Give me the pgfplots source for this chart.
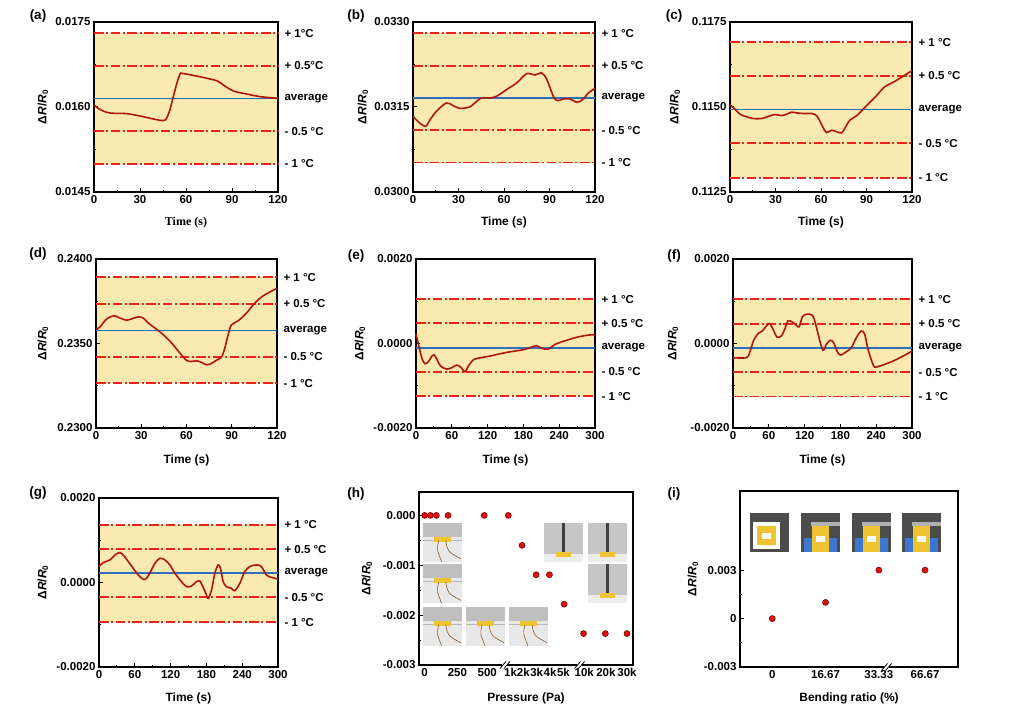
\documentclass[border=0pt]{standalone}
\usepackage{pgfplots}
\pgfplotsset{compat=1.18}
\usepackage{fontspec}
\setmainfont{Liberation Sans}
\newfontfamily\tnr{Liberation Serif}
\definecolor{bandyellow}{RGB}{251,234,176}
\definecolor{limred}{RGB}{235,35,28}
\definecolor{avgblue}{RGB}{50,110,190}
\definecolor{curvered}{RGB}{175,22,12}
\definecolor{ballred}{RGB}{220,15,15}
\definecolor{sensor}{RGB}{238,196,50}
\definecolor{glove}{RGB}{60,120,210}
\pgfplotsset{
  base/.style={scale only axis, anchor=south west, clip=false,
    tick align=inside, tick pos=left, major tick length=4pt, minor tick length=2.2pt,
    axis line style={line width=1.3pt}, every tick/.append style={black, line width=1pt},
    ticklabel style={font=\fontsize{11.5}{13}\selectfont\bfseries},
    /pgf/number format/assume math mode=true,
    scaled y ticks=false, scaled x ticks=false},
  tpanel/.style={base, minor x tick num=1, minor y tick num=1},
  bandax/.style={scale only axis, anchor=south west, hide axis},
  band/.style={fill=bandyellow, draw=none, forget plot},
  lim/.style={color=limred, line width=1.8pt, dash pattern=on 9.5pt off 2.6pt on 2pt off 2.6pt},
  avg/.style={color=avgblue, line width=1.6pt},
  curve/.style={color=curvered, line width=1.6pt, smooth},
  balls/.style={only marks, mark=*, mark size=3pt, mark options={fill=ballred, draw=red!50!black, line width=0.6pt}},
}
\tikzset{
  rlab/.style={anchor=west, xshift=3pt, font=\fontsize{11.5}{13}\selectfont\bfseries},
  xlab/.style={anchor=center, font=\fontsize{12}{14}\selectfont\bfseries},
  ylab/.style={anchor=center, rotate=90, font=\fontsize{12}{14}\selectfont\bfseries},
  plab/.style={anchor=center, font=\fontsize{13.5}{15}\selectfont\bfseries},
}
\newcommand{\dRR}{Δ\textit{R}/\textit{R}\textsubscript{0}}
\newcommand{\brk}[2]{%
  \fill[white] ([xshift=-2.5pt,yshift=-1.4pt]axis cs:#1,#2) rectangle ([xshift=2.5pt,yshift=1.4pt]axis cs:#1,#2);
  \draw[line width=0.8pt] ([xshift=-5pt,yshift=-3.5pt]axis cs:#1,#2) -- ([xshift=1pt,yshift=3.5pt]axis cs:#1,#2);
  \draw[line width=0.8pt] ([xshift=-1pt,yshift=-3.5pt]axis cs:#1,#2) -- ([xshift=5pt,yshift=3.5pt]axis cs:#1,#2);}
\newcommand{\hphoto}[2]{%
  \begin{scope}[shift={(#1pt,#2pt)}]
  \fill[gray!50] (0,0) rectangle (39pt,39pt);
  \fill[gray!18] (0,0) rectangle (39pt,25pt);
  \draw[gray!55, line width=0.4pt] (0,22pt) -- (39pt,22pt);
  \fill[sensor] (11pt,20pt) rectangle (28pt,25pt);
  \draw[brown!70!black, line width=0.6pt] (16pt,21pt) .. controls (14pt,12pt) .. (19pt,0pt);
  \draw[brown!70!black, line width=0.6pt] (23pt,21pt) .. controls (25pt,10pt) .. (38pt,3pt);
  \end{scope}}
\newcommand{\rphoto}[2]{%
  \begin{scope}[shift={(#1pt,#2pt)}]
  \fill[gray!45] (0,0) rectangle (38.5pt,39pt);
  \fill[gray!15] (0,0) rectangle (38.5pt,8pt);
  \fill[black!75] (17.5pt,10pt) rectangle (21pt,39pt);
  \fill[sensor] (12pt,5pt) rectangle (27pt,10pt);
  \end{scope}}
\newcommand{\iphoto}[3]{%
  \begin{scope}[shift={(#1pt,#2pt)}]
  \fill[black!70] (0,0) rectangle (39pt,39pt);
  \ifnum#3=0
    \fill[white] (3pt,3pt) rectangle (30pt,30pt);
    \fill[sensor] (7pt,7pt) rectangle (26pt,26pt);
    \fill[white] (12pt,13pt) rectangle (21pt,19pt);
  \else
    \fill[gray!60] (10pt,26pt) rectangle (39pt,30pt);
    \fill[sensor] (11pt,0pt) rectangle (28pt,26pt);
    \fill[white] (15pt,10pt) rectangle (24pt,16pt);
    \fill[glove] (3pt,0pt) rectangle (11pt,14pt);
    \fill[glove] (28pt,0pt) rectangle (36pt,14pt);
  \fi
  \end{scope}}
\begin{document}
\begin{tikzpicture}
\useasboundingbox (0,0) rectangle (1019pt,707pt);

% (a)
\begin{axis}[bandax, at={(94pt,515pt)}, width=184pt, height=170pt, xmin=0, xmax=120, ymin=0.0145, ymax=0.0175]
\addplot[band] coordinates {(0,0.015)(120,0.015)(120,0.0173)(0,0.0173)};
\end{axis}
\begin{axis}[tpanel, at={(94pt,515pt)}, width=184pt, height=170pt,
  xmin=0, xmax=120, ymin=0.0145, ymax=0.0175, xtick={0,30,60,90,120},
  ytick={0.0145,0.016,0.0175}, yticklabels={0.0145,0.0160,0.0175}]
\addplot[lim] coordinates {(0,0.0173)(120,0.0173)};
\addplot[lim] coordinates {(0,0.016725)(120,0.016725)};
\addplot[avg] coordinates {(0,0.01615)(120,0.01615)};
\addplot[lim] coordinates {(0,0.015575)(120,0.015575)};
\addplot[lim] coordinates {(0,0.015)(120,0.015)};
\addplot[curve] coordinates {(0,0.016035)(3.7,0.015959)(8.1,0.015907)(12.4,0.015889)(21.2,0.015883)(29.9,0.015842)(38.6,0.015789)(45.2,0.01576)(47.3,0.0158)(49.5,0.015948)(51.7,0.016182)(53.9,0.016405)(56.1,0.01658)(57.8,0.016592)(69.2,0.016533)(80.1,0.016463)(84.4,0.016387)(91,0.016281)(99.7,0.016229)(108.4,0.016182)(120,0.016153)};
\node[rlab] at (axis cs:120,0.0173) {+ 1°C};
\node[rlab] at (axis cs:120,0.016725) {+ 0.5°C};
\node[rlab] at (axis cs:120,0.01615) {average};
\node[rlab] at (axis cs:120,0.015575) {- 0.5 °C};
\node[rlab] at (axis cs:120,0.015) {- 1 °C};
\node[xlab, font=\fontsize{12}{14}\selectfont\tnr\bfseries, yshift=-31pt] at (rel axis cs:0.5,0) {Time (s)};
\node[ylab] at ([xshift=-51pt]rel axis cs:0,0.5) {\dRR};
\end{axis}

% (b)
\begin{axis}[bandax, at={(413pt,515pt)}, width=182pt, height=170pt, xmin=0, xmax=120, ymin=0.03, ymax=0.033]
\addplot[band] coordinates {(0,0.03052)(120,0.03052)(120,0.0328)(0,0.0328)};
\end{axis}
\begin{axis}[tpanel, at={(413pt,515pt)}, width=182pt, height=170pt,
  xmin=0, xmax=120, ymin=0.03, ymax=0.033, xtick={0,30,60,90,120},
  ytick={0.03,0.0315,0.033}, yticklabels={0.0300,0.0315,0.0330}]
\addplot[lim] coordinates {(0,0.0328)(120,0.0328)};
\addplot[lim] coordinates {(0,0.03223)(120,0.03223)};
\addplot[avg] coordinates {(0,0.03166)(120,0.03166)};
\addplot[lim] coordinates {(0,0.03109)(120,0.03109)};
\addplot[lim] coordinates {(0,0.03052)(120,0.03052)};
\addplot[curve] coordinates {(0,0.031335)(4.4,0.031218)(8.4,0.031159)(11,0.031265)(15.4,0.031424)(22,0.031571)(26.4,0.031524)(30.8,0.031476)(37.4,0.0315)(40.7,0.031571)(45.1,0.031659)(50.6,0.031659)(55,0.031688)(61.6,0.031806)(68.3,0.031924)(74.9,0.032088)(80.4,0.032065)(84.8,0.0321)(88.1,0.031994)(92.5,0.031688)(95.1,0.031612)(99.1,0.031641)(103.5,0.031641)(108.3,0.031582)(112.3,0.031641)(115.6,0.031747)(120,0.031829)};
\node[rlab] at (axis cs:120,0.0328) {+ 1 °C};
\node[rlab] at (axis cs:120,0.03223) {+ 0.5 °C};
\node[rlab] at (axis cs:120,0.03166) {average};
\node[rlab] at (axis cs:120,0.03109) {- 0.5 °C};
\node[rlab] at (axis cs:120,0.03052) {- 1 °C};
\node[xlab, yshift=-30pt] at (rel axis cs:0.5,0) {Time (s)};
\node[ylab] at ([xshift=-50pt]rel axis cs:0,0.5) {\dRR};
\end{axis}

% (c)
\begin{axis}[bandax, at={(730pt,515pt)}, width=182pt, height=170pt, xmin=0, xmax=120, ymin=0.1125, ymax=0.1175]
\addplot[band] coordinates {(0,0.11292)(120,0.11292)(120,0.11691)(0,0.11691)};
\end{axis}
\begin{axis}[tpanel, at={(730pt,515pt)}, width=182pt, height=170pt,
  xmin=0, xmax=120, ymin=0.1125, ymax=0.1175, xtick={0,30,60,90,120},
  ytick={0.1125,0.115,0.1175}, yticklabels={0.1125,0.1150,0.1175}]
\addplot[lim] coordinates {(0,0.11691)(120,0.11691)};
\addplot[lim] coordinates {(0,0.11592)(120,0.11592)};
\addplot[avg] coordinates {(0,0.11493)(120,0.11493)};
\addplot[lim] coordinates {(0,0.11393)(120,0.11393)};
\addplot[lim] coordinates {(0,0.11292)(120,0.11292)};
\addplot[curve] coordinates {(0,0.115064)(3.3,0.114936)(6.6,0.114788)(11,0.114709)(15.4,0.11466)(20.8,0.11466)(26.3,0.114739)(29.6,0.114778)(34,0.114749)(37.3,0.114788)(40.6,0.114847)(43.9,0.114827)(48.3,0.114808)(53.8,0.114808)(57,0.114749)(59.2,0.114591)(61.4,0.114394)(63.6,0.114246)(66.9,0.114315)(70.2,0.114275)(73.5,0.114236)(75.7,0.114374)(79,0.114611)(83.4,0.114739)(87.8,0.114936)(92.2,0.115133)(96.5,0.11533)(102,0.115596)(107.5,0.115725)(113,0.115872)(120,0.11607)};
\node[rlab] at (axis cs:120,0.11691) {+ 1 °C};
\node[rlab] at (axis cs:120,0.11592) {+ 0.5 °C};
\node[rlab] at (axis cs:120,0.11493) {average};
\node[rlab] at (axis cs:120,0.11393) {- 0.5 °C};
\node[rlab] at (axis cs:120,0.11292) {- 1 °C};
\node[xlab, yshift=-30pt] at (rel axis cs:0.5,0) {Time (s)};
\node[ylab] at ([xshift=-55pt]rel axis cs:0,0.5) {\dRR};
\end{axis}

% (d)
\begin{axis}[bandax, at={(96pt,279pt)}, width=181pt, height=169pt, xmin=0, xmax=120, ymin=0.23, ymax=0.24]
\addplot[band] coordinates {(0,0.23264)(120,0.23264)(120,0.23892)(0,0.23892)};
\end{axis}
\begin{axis}[tpanel, at={(96pt,279pt)}, width=181pt, height=169pt,
  xmin=0, xmax=120, ymin=0.23, ymax=0.24, xtick={0,30,60,90,120},
  ytick={0.23,0.235,0.24}, yticklabels={0.2300,0.2350,0.2400}]
\addplot[lim] coordinates {(0,0.23892)(120,0.23892)};
\addplot[lim] coordinates {(0,0.23735)(120,0.23735)};
\addplot[avg] coordinates {(0,0.23578)(120,0.23578)};
\addplot[lim] coordinates {(0,0.23421)(120,0.23421)};
\addplot[lim] coordinates {(0,0.23264)(120,0.23264)};
\addplot[curve] coordinates {(0,0.235807)(2.9,0.236004)(6.2,0.236378)(9.5,0.236575)(12.8,0.236634)(16.1,0.236496)(20.5,0.236378)(24.9,0.236496)(28.2,0.236575)(31.5,0.236496)(34.8,0.236201)(39.2,0.235906)(44.7,0.235512)(50.2,0.23502)(55.7,0.234429)(60.1,0.233996)(63.4,0.233937)(66.7,0.233976)(70,0.233878)(73.3,0.23374)(76.6,0.233819)(79.9,0.234016)(83.2,0.234193)(85.4,0.234724)(87.6,0.235512)(89.8,0.236102)(94.2,0.236339)(99.7,0.236791)(105.2,0.237382)(110.7,0.237815)(120,0.238268)};
\node[rlab] at (axis cs:120,0.23892) {+ 1 °C};
\node[rlab] at (axis cs:120,0.23735) {+ 0.5 °C};
\node[rlab] at (axis cs:120,0.23578) {average};
\node[rlab] at (axis cs:120,0.23421) {- 0.5 °C};
\node[rlab] at (axis cs:120,0.23264) {- 1 °C};
\node[xlab, yshift=-32pt] at (rel axis cs:0.5,0) {Time (s)};
\node[ylab] at ([xshift=-53pt]rel axis cs:0,0.5) {\dRR};
\end{axis}

% (e)
\begin{axis}[bandax, at={(416pt,279pt)}, width=179pt, height=169pt, xmin=0, xmax=300, ymin=-0.002, ymax=0.002]
\addplot[band] coordinates {(0,-0.00125)(300,-0.00125)(300,0.00105)(0,0.00105)};
\end{axis}
\begin{axis}[tpanel, at={(416pt,279pt)}, width=179pt, height=169pt,
  xmin=0, xmax=300, ymin=-0.002, ymax=0.002, xtick={0,60,120,180,240,300},
  ytick={-0.002,0,0.002}, yticklabels={-0.0020,0.0000,0.0020}]
\addplot[lim] coordinates {(0,0.00105)(300,0.00105)};
\addplot[lim] coordinates {(0,0.000478)(300,0.000478)};
\addplot[avg] coordinates {(0,-0.0001)(300,-0.0001)};
\addplot[lim] coordinates {(0,-0.000672)(300,-0.000672)};
\addplot[lim] coordinates {(0,-0.00125)(300,-0.00125)};
\addplot[curve] coordinates {(0,0.000218)(2.8,0.000059)(6.7,-0.000178)(10.6,-0.000376)(15.1,-0.000479)(20.7,-0.000432)(26.3,-0.000305)(30.7,-0.000273)(35.8,-0.0004)(41.3,-0.000535)(51.4,-0.000606)(59.8,-0.000574)(68.2,-0.000511)(74.9,-0.000558)(82.1,-0.000669)(87.7,-0.000535)(95,-0.0004)(102.8,-0.000352)(124,-0.000297)(152,-0.00021)(179.9,-0.000147)(193.9,-0.000083)(202.2,-0.000051)(210.6,-0.000115)(221.8,-0.000131)(233,-0.00002)(252.5,0.000075)(269.3,0.000147)(286,0.000194)(300,0.00021)};
\node[rlab] at (axis cs:300,0.00105) {+ 1 °C};
\node[rlab] at (axis cs:300,0.000478) {+ 0.5 °C};
\node[rlab] at (axis cs:300,-0.0001) {average};
\node[rlab] at (axis cs:300,-0.000672) {- 0.5 °C};
\node[rlab] at (axis cs:300,-0.00125) {- 1 °C};
\node[xlab, yshift=-32pt] at (rel axis cs:0.5,0) {Time (s)};
\node[ylab] at ([xshift=-56pt]rel axis cs:0,0.5) {\dRR};
\end{axis}

% (f)
\begin{axis}[bandax, at={(733pt,279pt)}, width=179pt, height=169pt, xmin=0, xmax=300, ymin=-0.002, ymax=0.002]
\addplot[band] coordinates {(0,-0.001255)(300,-0.001255)(300,0.00105)(0,0.00105)};
\end{axis}
\begin{axis}[tpanel, at={(733pt,279pt)}, width=179pt, height=169pt,
  xmin=0, xmax=300, ymin=-0.002, ymax=0.002, xtick={0,60,120,180,240,300},
  ytick={-0.002,0,0.002}, yticklabels={-0.0020,0.0000,0.0020}]
\addplot[lim] coordinates {(0,0.00105)(300,0.00105)};
\addplot[lim] coordinates {(0,0.000471)(300,0.000471)};
\addplot[avg] coordinates {(0,-0.0001)(300,-0.0001)};
\addplot[lim] coordinates {(0,-0.000677)(300,-0.000677)};
\addplot[lim] coordinates {(0,-0.001255)(300,-0.001255)};
\addplot[curve] coordinates {(0,-0.000337)(22.3,-0.000337)(27.9,-0.000218)(34.6,0.000075)(41.9,0.000234)(49.2,0.000297)(55.9,0.000416)(61.5,0.000471)(67,0.000337)(73.7,0.000154)(81,0.000178)(86.6,0.000337)(92.2,0.000535)(97.8,0.000519)(103.4,0.000471)(110.6,0.000392)(116.2,0.00063)(122.9,0.000693)(133,0.000669)(138.5,0.000455)(144.1,0.000139)(150.8,-0.000162)(156.4,-0.00002)(163.1,0.000075)(168.7,0.00002)(174.3,-0.000178)(179.9,-0.000273)(190,-0.000194)(198.3,-0.000099)(206.7,0.000139)(215.1,0.000297)(220.7,0.000218)(226.3,-0.000139)(233.5,-0.000455)(237.4,-0.000559)(245.8,-0.000535)(268.2,-0.000416)(290.5,-0.000257)(300,-0.000178)};
\node[rlab] at (axis cs:300,0.00105) {+ 1 °C};
\node[rlab] at (axis cs:300,0.000471) {+ 0.5 °C};
\node[rlab] at (axis cs:300,-0.0001) {average};
\node[rlab] at (axis cs:300,-0.000677) {- 0.5 °C};
\node[rlab] at (axis cs:300,-0.001255) {- 1 °C};
\node[xlab, yshift=-32pt] at (rel axis cs:0.5,0) {Time (s)};
\node[ylab] at ([xshift=-60pt]rel axis cs:0,0.5) {\dRR};
\end{axis}

% (g)
\begin{axis}[bandax, at={(99pt,40pt)}, width=179pt, height=169pt, xmin=0, xmax=300, ymin=-0.002, ymax=0.002]
\addplot[band] coordinates {(0,-0.000939)(300,-0.000939)(300,0.001366)(0,0.001366)};
\end{axis}
\begin{axis}[tpanel, at={(99pt,40pt)}, width=179pt, height=169pt,
  xmin=0, xmax=300, ymin=-0.002, ymax=0.002, xtick={0,60,120,180,240,300},
  ytick={-0.002,0,0.002}, yticklabels={-0.0020,0.0000,0.0020}]
\addplot[lim] coordinates {(0,0.001366)(300,0.001366)};
\addplot[lim] coordinates {(0,0.000788)(300,0.000788)};
\addplot[avg] coordinates {(0,0.000226)(300,0.000226)};
\addplot[lim] coordinates {(0,-0.000352)(300,-0.000352)};
\addplot[lim] coordinates {(0,-0.000939)(300,-0.000939)};
\addplot[curve] coordinates {(0,0.000376)(7.2,0.000471)(18.4,0.000535)(26.8,0.000653)(35.1,0.000709)(41.8,0.00063)(49.1,0.000495)(57.4,0.000337)(65.8,0.000178)(74.2,0.000075)(79.8,0.000099)(86.4,0.000257)(93.7,0.000455)(102.1,0.000574)(110.4,0.000535)(118.8,0.000416)(127.2,0.000218)(138.3,0.00002)(146.7,-0.000099)(155.1,-0.000083)(163.4,0.00002)(169,0.000036)(173.5,-0.000083)(179.1,-0.000257)(183,-0.000376)(188.6,-0.000178)(194.1,0.000218)(199.7,0.000416)(203.6,0.000337)(208.1,0.00002)(213.7,-0.000099)(222,-0.000139)(227.6,-0.000194)(236,-0.00002)(244.3,0.000257)(252.7,0.000376)(263.8,0.000416)(272.2,0.000376)(280.5,0.000178)(288.9,0.000123)(300,0.000083)};
\node[rlab] at (axis cs:300,0.001366) {+ 1 °C};
\node[rlab] at (axis cs:300,0.000788) {+ 0.5 °C};
\node[rlab] at (axis cs:300,0.000226) {average};
\node[rlab] at (axis cs:300,-0.000352) {- 0.5 °C};
\node[rlab] at (axis cs:300,-0.000939) {- 1 °C};
\node[xlab, yshift=-31pt] at (rel axis cs:0.5,0) {Time (s)};
\node[ylab] at ([xshift=-56pt]rel axis cs:0,0.5) {\dRR};
\end{axis}

% (h)
\begin{axis}[base, at={(419pt,42pt)}, width=214pt, height=173pt,
  xmin=0, xmax=213.3, ymin=-0.003, ymax=0.00047, minor y tick num=1,
  xtick={5.67,38.3,68,91.3,104,117.3,130.7,144,164.7,186.3,207.3},
  xticklabels={0,250,500,1k,2k,3k,4k,5k,10k,20k,30k},
  xtick style={draw=none},
  ytick={-0.003,-0.002,-0.001,0}, yticklabels={-0.003,-0.002,-0.001,0.000}]
% x: position on the broken axis, p: pressure (Pa)
\addplot[balls] table[x=pos, y=dr] {
pos p dr
5.67 0 0
11.33 50 0
17.33 100 0
29 200 0
65 500 0
89 1000 0
102.7 2000 -0.0006
116.7 3000 -0.00119
130 4000 -0.00119
144.7 5000 -0.00178
164 10000 -0.00237
185.7 20000 -0.00237
207.3 30000 -0.00237
};
\brk{85.7}{-0.003}
\brk{160}{-0.003}
\node[xlab, yshift=-33pt] at (rel axis cs:0.5,0) {Pressure (Pa)};
\node[ylab] at ([xshift=-52pt]rel axis cs:0,0.5) {\dRR};
\end{axis}

% (i)
\begin{axis}[base, at={(740pt,40pt)}, width=218pt, height=176pt,
  xmin=0, xmax=218.3, ymin=-0.003, ymax=0.0079, minor y tick num=1,
  xtick={32.3,85.7,139,185.3}, xticklabels={0,16.67,33.33,66.67},
  xtick style={draw=none},
  ytick={-0.003,0,0.003}, yticklabels={-0.003,0,0.003}]
% x: position on the broken axis, r: bending ratio (%)
\addplot[balls] table[x=pos, y=dr] {
pos r dr
32.3 0 0
85.7 16.67 0.001
139 33.33 0.003
185.3 66.67 0.003
};
\brk{146.7}{-0.003}
\node[xlab, yshift=-31pt] at (rel axis cs:0.5,0) {Bending ratio (\%)};
\node[ylab] at ([xshift=-47pt]rel axis cs:0,0.5) {\dRR};
\end{axis}

% photo insets (h)
\hphoto{422.7}{145.3}
\hphoto{422.7}{103.7}
\hphoto{422.7}{61.3}
\hphoto{466}{61.3}
\hphoto{509}{61.3}
\rphoto{544.3}{145.3}
\rphoto{588.3}{145.3}
\rphoto{588.3}{103.7}
% photo insets (i)
\iphoto{750}{154.7}{0}
\iphoto{800.7}{154.7}{1}
\iphoto{851.7}{154.7}{1}
\iphoto{901.7}{154.7}{1}

% panel letters
\node[plab] at (38pt,691pt) {(a)};
\node[plab] at (356pt,691pt) {(b)};
\node[plab] at (674pt,691pt) {(c)};
\node[plab] at (38pt,453pt) {(d)};
\node[plab] at (356pt,451pt) {(e)};
\node[plab] at (674pt,451pt) {(f)};
\node[plab] at (38pt,214pt) {(g)};
\node[plab] at (356pt,213pt) {(h)};
\node[plab] at (674pt,213pt) {(i)};
\end{tikzpicture}
\end{document}
